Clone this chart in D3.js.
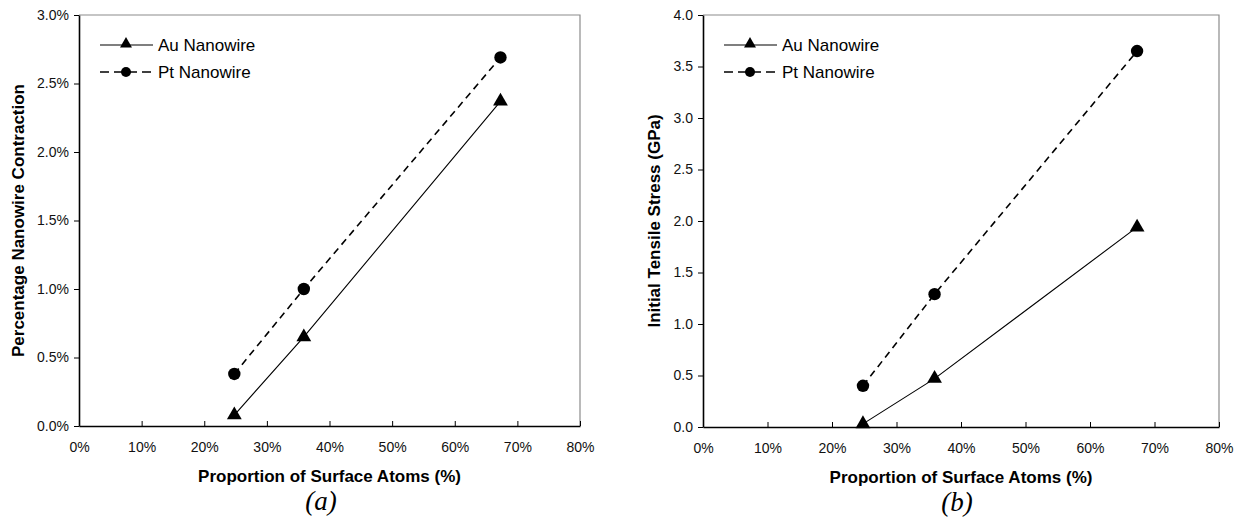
<!DOCTYPE html>
<html>
<head>
<meta charset="utf-8">
<script src="https://cdn.jsdelivr.net/npm/d3@7"></script>
<style>
  body { margin: 0; background: #fff; }
  svg text { font-family: "Liberation Sans", Arial, sans-serif; }
</style>
</head>
<body>
<svg id="chart" width="1243" height="525"></svg>
<script>
// surface atom proportion (%) for the three nanowire sizes
var surfaceAtoms = [24.8, 35.9, 67.3];
// (a) contraction in %
var auContraction = [0.08, 0.65, 2.37];
var ptContraction = [0.38, 1.00, 2.69];
// (b) initial tensile stress in GPa
var auStress = [0.03, 0.47, 1.94];
var ptStress = [0.40, 1.29, 3.65];

var xTicks = [0, 10, 20, 30, 40, 50, 60, 70, 80];
var yTicksA = [0, 0.5, 1.0, 1.5, 2.0, 2.5, 3.0];
var yTicksB = [0, 0.5, 1.0, 1.5, 2.0, 2.5, 3.0, 3.5, 4.0];

var svg = d3.select("#chart");

function drawPanel(opt) {
    var x = d3.scaleLinear().domain([0, 80]).range([opt.left, opt.right]);
    var y = d3.scaleLinear().domain([0, opt.ymax]).range([opt.bottom, opt.top]);
    var g = svg.append("g");

    // gray frame on top / right
    g.append("path")
        .attr("d", "M" + opt.left + "," + opt.top + "H" + opt.right + "V" + opt.bottom)
        .attr("fill", "none").attr("stroke", "#8c8c8c").attr("stroke-width", 1.2);

    // x axis, ticks inward
    var xa = g.append("g")
        .attr("transform", "translate(0," + opt.bottom + ")")
        .call(d3.axisBottom(x).tickValues(xTicks).tickSize(-5).tickSizeOuter(0)
            .tickFormat(function (d) { return d + "%"; }));
    xa.select(".domain").attr("stroke", "#000").attr("stroke-width", 1.6);
    xa.selectAll(".tick line").attr("stroke", "#000");
    xa.selectAll("text").attr("y", 16).attr("font-size", 14).attr("fill", "#111");

    // y axis, ticks outward
    var ya = g.append("g")
        .attr("transform", "translate(" + opt.left + ",0)")
        .call(d3.axisLeft(y).tickValues(opt.yTicks).tickSize(5).tickSizeOuter(0)
            .tickFormat(opt.fmt));
    ya.select(".domain").attr("stroke", "#000").attr("stroke-width", 1.6);
    ya.selectAll(".tick line").attr("stroke", "#000");
    ya.selectAll("text").attr("x", -10).attr("font-size", 14).attr("fill", "#111");

    // axis titles
    g.append("text")
        .attr("x", (opt.left + opt.right) / 2).attr("y", opt.bottom + 56)
        .attr("text-anchor", "middle").attr("font-size", 17).attr("font-weight", "bold")
        .text("Proportion of Surface Atoms (%)");
    g.append("text")
        .attr("transform", "translate(" + opt.ytx + "," + ((opt.top + opt.bottom) / 2) + ") rotate(-90)")
        .attr("text-anchor", "middle").attr("font-size", 17).attr("font-weight", "bold")
        .text(opt.ytitle);

    // panel label
    g.append("text")
        .attr("x", opt.labelX).attr("y", opt.bottom + 84)
        .attr("text-anchor", "middle").attr("font-size", 27).attr("font-style", "italic")
        .style("font-family", "'Liberation Serif', 'Times New Roman', serif")
        .text(opt.label);

    var line = d3.line()
        .x(function (d, i) { return x(surfaceAtoms[i]); })
        .y(function (d) { return y(d); });

    g.append("path").datum(opt.au).attr("d", line)
        .attr("fill", "none").attr("stroke", "#000").attr("stroke-width", 1.1);
    g.append("path").datum(opt.pt).attr("d", line)
        .attr("fill", "none").attr("stroke", "#000").attr("stroke-width", 1.6)
        .attr("stroke-dasharray", "7,5");

    var tri = d3.symbol().type(d3.symbolTriangle).size(95);
    g.selectAll(".au").data(opt.au).enter().append("path")
        .attr("transform", function (d, i) { return "translate(" + x(surfaceAtoms[i]) + "," + y(d) + ")"; })
        .attr("d", tri).attr("fill", "#000");
    g.selectAll(".pt").data(opt.pt).enter().append("circle")
        .attr("cx", function (d, i) { return x(surfaceAtoms[i]); })
        .attr("cy", function (d) { return y(d); })
        .attr("r", 6.2).attr("fill", "#000");

    // legend
    var lx = opt.left + 21, ly = opt.top + 30;
    var leg = g.append("g");
    leg.append("line").attr("x1", lx).attr("x2", lx + 53).attr("y1", ly).attr("y2", ly)
        .attr("stroke", "#000").attr("stroke-width", 1.1);
    leg.append("path").attr("transform", "translate(" + (lx + 26) + "," + (ly - 1) + ")")
        .attr("d", d3.symbol().type(d3.symbolTriangle).size(62)).attr("fill", "#000");
    leg.append("text").attr("x", lx + 58).attr("y", ly + 6).attr("font-size", 17).text("Au Nanowire");
    leg.append("line").attr("x1", lx).attr("x2", lx + 53).attr("y1", ly + 27).attr("y2", ly + 27)
        .attr("stroke", "#000").attr("stroke-width", 1.6).attr("stroke-dasharray", "9,5");
    leg.append("circle").attr("cx", lx + 26).attr("cy", ly + 27).attr("r", 5).attr("fill", "#000");
    leg.append("text").attr("x", lx + 58).attr("y", ly + 33).attr("font-size", 17).text("Pt Nanowire");
}

drawPanel({
    left: 79, right: 580, top: 15, bottom: 426, ymax: 3.0, yTicks: yTicksA,
    fmt: function (d) { return d.toFixed(1) + "%"; },
    ytitle: "Percentage Nanowire Contraction", ytx: 24,
    au: auContraction, pt: ptContraction, label: "(a)", labelX: 321
});
drawPanel({
    left: 703, right: 1219, top: 15, bottom: 427, ymax: 4.0, yTicks: yTicksB,
    fmt: function (d) { return d.toFixed(1); },
    ytitle: "Initial Tensile Stress (GPa)", ytx: 660,
    au: auStress, pt: ptStress, label: "(b)", labelX: 957
});
</script>
</body>
</html>
